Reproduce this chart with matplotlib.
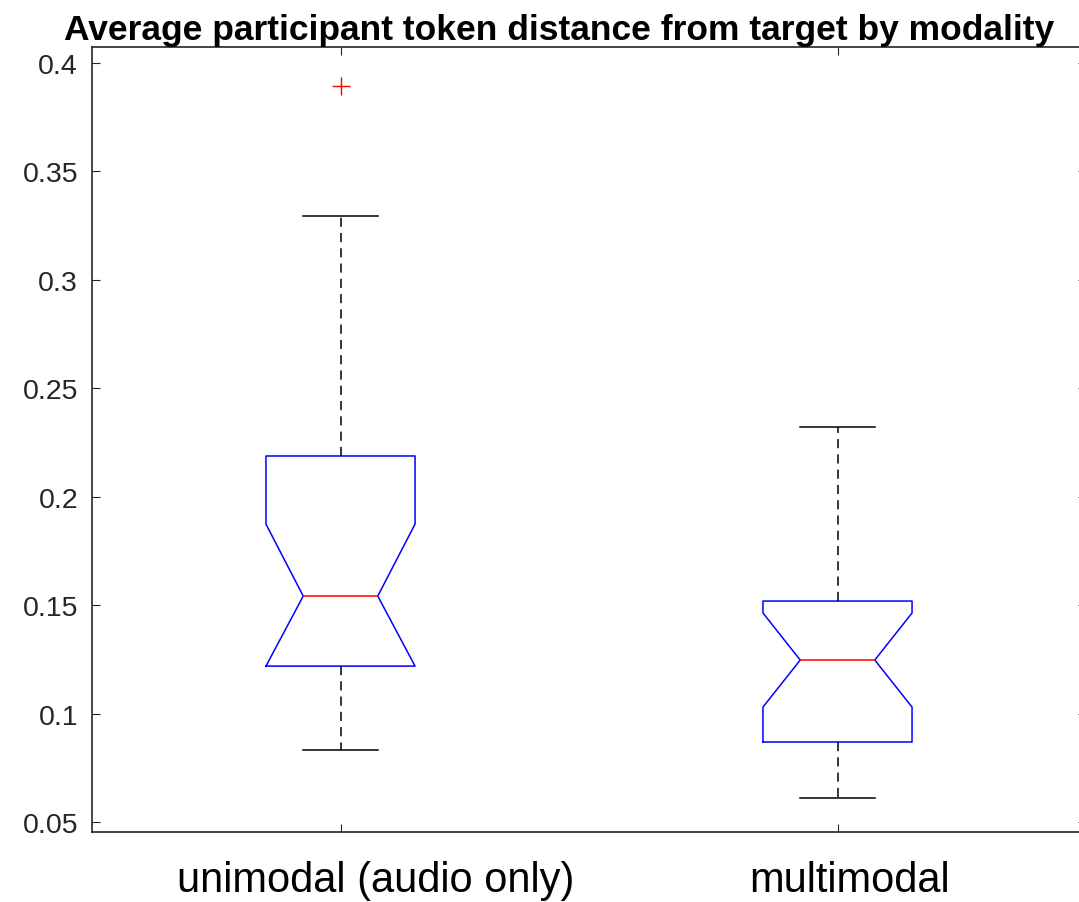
import matplotlib
matplotlib.use("Agg")
import matplotlib.pyplot as plt
from matplotlib.transforms import ScaledTranslation

plt.rcParams["font.family"] = ["Liberation Sans", "DejaVu Sans"]

# summary values
groups = ["unimodal (audio only)", "multimodal"]
medians = [0.1542, 0.1247]
q1s = [0.1219, 0.0869]
q3s = [0.2188, 0.1519]
whisk_lo = [0.0832, 0.0611]
whisk_hi = [0.3294, 0.2322]
notch_lo = [0.1219, 0.1030]
notch_hi = [0.1874, 0.1464]
outliers = [[0.3894], []]

stats = []
for i in range(len(groups)):
    stats.append(dict(med=medians[i], q1=q1s[i], q3=q3s[i],
                      whislo=whisk_lo[i], whishi=whisk_hi[i],
                      cilo=notch_lo[i], cihi=notch_hi[i],
                      fliers=outliers[i], label=groups[i]))

fig = plt.figure(figsize=(10.79, 9.03), dpi=100)
ax = fig.add_axes([92 / 1079, 70 / 903, 994 / 1079, 785 / 903])

ax.bxp(stats, positions=[1, 2], widths=0.3, shownotches=True,
       boxprops=dict(color="#0000ff", linewidth=1.1),
       medianprops=dict(color="#ff0000", linewidth=1.1),
       whiskerprops=dict(color="black", linewidth=1.1, linestyle=(0, (6, 4))),
       capprops=dict(color="black", linewidth=1.1),
       flierprops=dict(marker="+", markeredgecolor="#ff0000", markersize=13,
                       markeredgewidth=1.0, linestyle="none"))

ax.set_xlim(0.5, 2.5)
ax.set_ylim(0.0454, 0.4074)
ax.set_yticks([0.05, 0.1, 0.15, 0.2, 0.25, 0.3, 0.35, 0.4])
ax.set_yticklabels(["0.05", "0.1", "0.15", "0.2", "0.25", "0.3", "0.35", "0.4"])
ax.set_xticks([1, 2])
ax.set_xticklabels(groups, fontsize=30, color="black")
ax.tick_params(axis="y", labelsize=20.5, labelcolor="#262626", pad=10)
ax.tick_params(direction="in", length=6, width=0.8, color="#262626",
               top=True, right=True)
ax.tick_params(axis="x", pad=20)
# labels sit a little right of their ticks in the original
for lab, dx in zip(ax.get_xticklabels(), [35, 12]):
    lab.set_transform(lab.get_transform() + ScaledTranslation(dx / 100, 0, fig.dpi_scale_trans))
for s in ax.spines.values():
    s.set_color("#262626")
    s.set_linewidth(1.2)

ax.set_title("Average participant token distance from target by modality",
             fontsize=25.5, fontweight="bold", pad=6, x=(559 - 92) / 994)

fig.savefig("out.png", dpi=100)
